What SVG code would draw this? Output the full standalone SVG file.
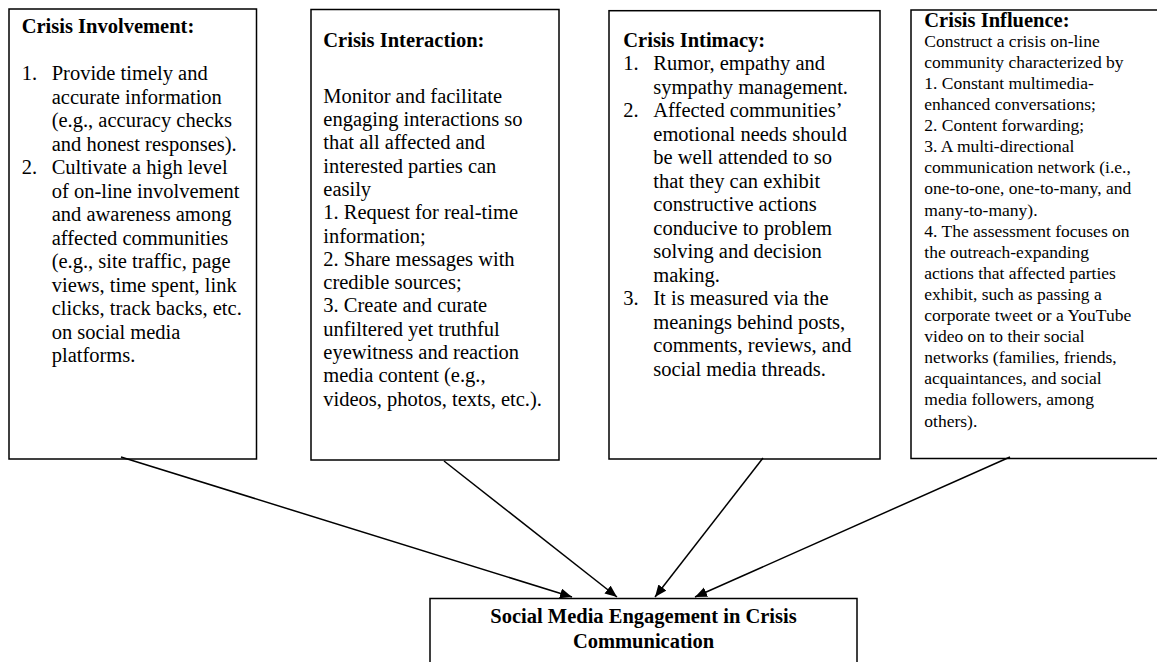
<svg xmlns="http://www.w3.org/2000/svg" width="1157" height="662" viewBox="0 0 1157 662">
<style>
.box{fill:#fff;stroke:#000;stroke-width:1.5}
.h{font-family:"Liberation Serif","Times New Roman",serif;font-weight:bold;font-size:20.5px;fill:#000}
.t{font-family:"Liberation Serif","Times New Roman",serif;font-size:20.5px;fill:#000}
.s{font-family:"Liberation Serif","Times New Roman",serif;font-size:17.5px;fill:#000}
.c{font-family:"Liberation Serif","Times New Roman",serif;font-weight:bold;font-size:20.5px;fill:#000;text-anchor:middle}
.conn{stroke:#000;stroke-width:1.5;fill:none}
</style>
<defs>
<marker id="ah" markerWidth="13" markerHeight="11" refX="12" refY="5" orient="auto" markerUnits="userSpaceOnUse">
<path d="M0,0 L12,5 L0,10 z" fill="#000"/>
</marker>
</defs>
<rect width="1157" height="662" fill="#fff"/>

<g id="involvement">
<rect class="box" x="9" y="9" width="247.5" height="450"/>
<text class="h" x="21.7" y="33.3">Crisis Involvement:</text>
<g class="t">
<text x="21.7" y="80">1.</text>
<text x="51.7" y="80">Provide timely and</text>
<text x="51.7" y="103.5">accurate information</text>
<text x="51.7" y="127">(e.g., accuracy checks</text>
<text x="51.7" y="150.5">and honest responses).</text>
<text x="21.7" y="174">2.</text>
<text x="51.7" y="174">Cultivate a high level</text>
<text x="51.7" y="197.5">of on-line involvement</text>
<text x="51.7" y="221">and awareness among</text>
<text x="51.7" y="244.5">affected communities</text>
<text x="51.7" y="268">(e.g., site traffic, page</text>
<text x="51.7" y="291.5">views, time spent, link</text>
<text x="51.7" y="315">clicks, track backs, etc.</text>
<text x="51.7" y="338.5">on social media</text>
<text x="51.7" y="362">platforms.</text>
</g>
</g>

<g id="interaction">
<rect class="box" x="311" y="9.5" width="248" height="450.5"/>
<text class="h" x="323.3" y="46.7">Crisis Interaction:</text>
<g class="t">
<text x="323.3" y="102.7">Monitor and facilitate</text>
<text x="323.3" y="126">engaging interactions so</text>
<text x="323.3" y="149.3">that all affected and</text>
<text x="323.3" y="172.6">interested parties can</text>
<text x="323.3" y="195.9">easily</text>
<text x="323.3" y="219.2">1. Request for real-time</text>
<text x="323.3" y="242.5">information;</text>
<text x="323.3" y="265.8">2. Share messages with</text>
<text x="323.3" y="289.1">credible sources;</text>
<text x="323.3" y="312.4">3. Create and curate</text>
<text x="323.3" y="335.7">unfiltered yet truthful</text>
<text x="323.3" y="359">eyewitness and reaction</text>
<text x="323.3" y="382.3">media content (e.g.,</text>
<text x="323.3" y="405.6">videos, photos, texts, etc.).</text>
</g>
</g>

<g id="intimacy">
<rect class="box" x="609" y="10.7" width="271" height="448.3"/>
<text class="h" x="623.3" y="46.7">Crisis Intimacy:</text>
<g class="t">
<text x="623.3" y="70">1.</text>
<text x="653.3" y="70">Rumor, empathy and</text>
<text x="653.3" y="93.5">sympathy management.</text>
<text x="623.3" y="117">2.</text>
<text x="653.3" y="117">Affected communities’</text>
<text x="653.3" y="140.5">emotional needs should</text>
<text x="653.3" y="164">be well attended to so</text>
<text x="653.3" y="187.5">that they can exhibit</text>
<text x="653.3" y="211">constructive actions</text>
<text x="653.3" y="234.5">conducive to problem</text>
<text x="653.3" y="258">solving and decision</text>
<text x="653.3" y="281.5">making.</text>
<text x="623.3" y="305">3.</text>
<text x="653.3" y="305">It is measured via the</text>
<text x="653.3" y="328.5">meanings behind posts,</text>
<text x="653.3" y="352">comments, reviews, and</text>
<text x="653.3" y="375.5">social media threads.</text>
</g>
</g>

<g id="influence">
<rect class="box" x="911" y="10" width="250" height="448.5"/>
<text class="h" x="924.3" y="26.7">Crisis Influence:</text>
<g class="s">
<text x="924.3" y="46.7">Construct a crisis on-line</text>
<text x="924.3" y="67.8">community characterized by</text>
<text x="924.3" y="88.9">1. Constant multimedia-</text>
<text x="924.3" y="110">enhanced conversations;</text>
<text x="924.3" y="131.1">2. Content forwarding;</text>
<text x="924.3" y="152.2">3. A multi-directional</text>
<text x="924.3" y="173.3">communication network (i.e.,</text>
<text x="924.3" y="194.4">one-to-one, one-to-many, and</text>
<text x="924.3" y="215.5">many-to-many).</text>
<text x="924.3" y="236.6">4. The assessment focuses on</text>
<text x="924.3" y="257.7">the outreach-expanding</text>
<text x="924.3" y="278.8">actions that affected parties</text>
<text x="924.3" y="299.9">exhibit, such as passing a</text>
<text x="924.3" y="321">corporate tweet or a YouTube</text>
<text x="924.3" y="342.1">video on to their social</text>
<text x="924.3" y="363.2">networks (families, friends,</text>
<text x="924.3" y="384.3">acquaintances, and social</text>
<text x="924.3" y="405.4">media followers, among</text>
<text x="924.3" y="426.5">others).</text>
</g>
</g>

<g id="engagement">
<rect class="box" x="430" y="598.5" width="427" height="80"/>
<text class="c" x="643.5" y="622.5">Social Media Engagement in Crisis</text>
<text class="c" x="643.5" y="648">Communication</text>
</g>

<g id="connectors">
<line class="conn" x1="121" y1="457" x2="572" y2="597" marker-end="url(#ah)"/>
<line class="conn" x1="444" y1="461" x2="617" y2="597" marker-end="url(#ah)"/>
<line class="conn" x1="763" y1="458" x2="655" y2="597" marker-end="url(#ah)"/>
<line class="conn" x1="1010" y1="457" x2="695" y2="597" marker-end="url(#ah)"/>
</g>
</svg>
